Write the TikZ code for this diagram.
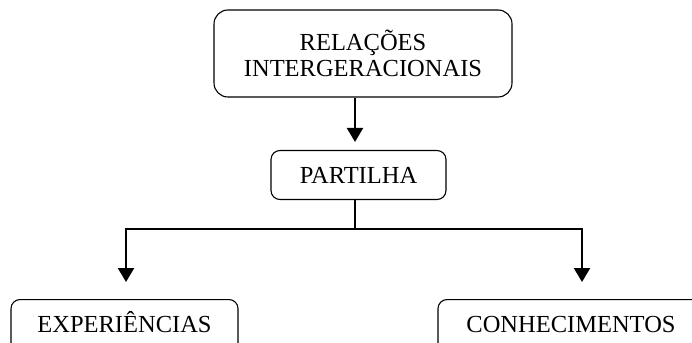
\documentclass[tikz,border=0pt]{standalone}
\usepackage{fontspec}
\setmainfont{Liberation Serif}
\usetikzlibrary{arrows.meta}
\begin{document}
\begin{tikzpicture}[x=1pt,y=-1pt,
  box/.style={draw=black,line width=1.1pt,rounded corners=#1,inner sep=0pt,
    font=\fontsize{24.5}{26.5}\selectfont,align=center},
  box/.default=9pt,
  link/.style={line width=2.2pt,-{Triangle[width=16pt,length=14pt]}},
  plain/.style={line width=2.2pt}]
\useasboundingbox (0,0) rectangle (692,342);
\clip (0,0) rectangle (692,342);
\node[box=14pt,minimum width=298pt,minimum height=87pt] (rel) at (363,53.5)
  {RELAÇÕES\\INTERGERACIONAIS};
\node[box,minimum width=175pt,minimum height=49pt] (par) at (358.5,175)
  {PARTILHA};
\node[box,minimum width=227pt,text height=33pt,text depth=50pt,anchor=north] (exp) at (124.5,299)
  {EXPERIÊNCIAS};
\node[box,minimum width=266pt,text height=33pt,text depth=50pt,anchor=north] (con) at (571,299)
  {CONHECIMENTOS};
\coordinate (ax) at (355,0);
\coordinate (hy) at (0,229);
\coordinate (lx) at (126,0);
\coordinate (rx) at (582,0);
\draw[link] (rel.south -| ax) -- ([yshift=8pt]par.north -| ax);
\draw[plain] (par.south -| ax) -- (hy -| ax);
\draw[link] (hy -| ax) -- (hy -| lx) -- ([yshift=17pt]exp.north -| lx);
\draw[link] (hy -| ax) -- (hy -| rx) -- ([yshift=17pt]con.north -| rx);
\end{tikzpicture}
\end{document}
